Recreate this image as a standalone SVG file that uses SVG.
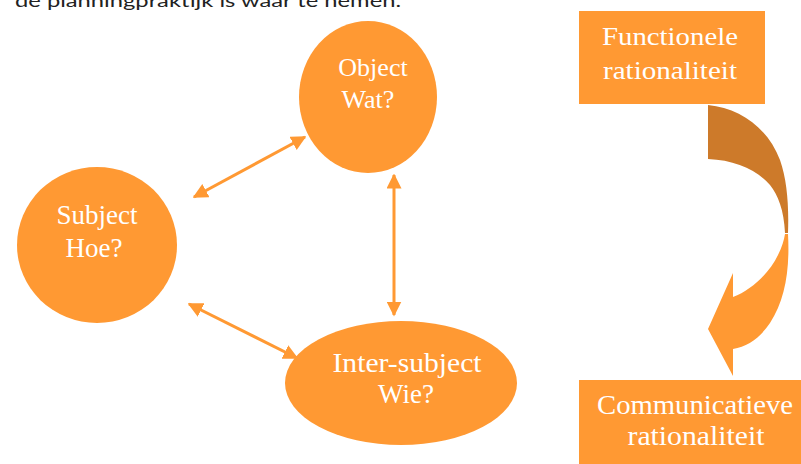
<svg xmlns="http://www.w3.org/2000/svg" width="801" height="464" viewBox="0 0 801 464">
<style>
.fill{fill:#FF9933}
.lbl{font-family:"Liberation Serif","Times New Roman",serif;fill:#fff;text-anchor:middle}
.conn{stroke:#FF9933;stroke-width:3;fill:none}
</style>
<defs>
<marker id="ah" viewBox="0 0 10 10" refX="9" refY="5" markerUnits="userSpaceOnUse" markerWidth="15" markerHeight="15" orient="auto-start-reverse">
<path d="M0,0 L10,5 L0,10 z" fill="#FF9933"/>
</marker>
</defs>
<rect width="801" height="464" fill="#fff"/>
<text x="15" y="7" font-family="Lato,'Open Sans',sans-serif" font-size="17" fill="#222" textLength="386" lengthAdjust="spacingAndGlyphs">de planningpraktijk is waar te nemen.</text>

<g id="object">
<ellipse class="fill" cx="368" cy="97" rx="69" ry="76"/>
<text class="lbl" x="373" y="76" font-size="26">Object</text>
<text class="lbl" x="368" y="108" font-size="26">Wat?</text>
</g>
<g id="subject">
<ellipse class="fill" cx="97" cy="245" rx="80" ry="78"/>
<text class="lbl" x="97" y="224" font-size="27">Subject</text>
<text class="lbl" x="94" y="257" font-size="27">Hoe?</text>
</g>
<g id="intersubject">
<ellipse class="fill" cx="401" cy="383" rx="116" ry="62"/>
<text class="lbl" x="407" y="372" font-size="27" textLength="149" lengthAdjust="spacingAndGlyphs">Inter-subject</text>
<text class="lbl" x="406" y="403" font-size="27">Wie?</text>
</g>
<g id="functionele">
<rect class="fill" x="579" y="11" width="186" height="93"/>
<text class="lbl" x="670" y="45" font-size="25" textLength="136" lengthAdjust="spacingAndGlyphs">Functionele</text>
<text class="lbl" x="670" y="79" font-size="25" textLength="134" lengthAdjust="spacingAndGlyphs">rationaliteit</text>
</g>
<g id="communicatieve">
<rect class="fill" x="579" y="380" width="222" height="84"/>
<text class="lbl" x="695" y="414" font-size="27" textLength="196" lengthAdjust="spacingAndGlyphs">Communicatieve</text>
<text class="lbl" x="696" y="445" font-size="27" textLength="137" lengthAdjust="spacingAndGlyphs">rationaliteit</text>
</g>
<g id="curved-arrow">
<path fill="#CD7A2A" d="M708,105 C740,108 768,128 780,160 C787,180 789,205 788,233 L785,233 C784,210 778,195 770,185 C757,170 735,160 708,159 Z"/>
<path class="fill" d="M785,234 L788,234 C790,270 785,300 770,323 C760,338 748,346 733,349 L733,376 L708,329 L733,273 L733,297 C752,290 770,272 778,255 C782,247 784,240 785,234 Z"/>
</g>
<g id="connectors">
<line class="conn" x1="194" y1="197" x2="305" y2="137" marker-start="url(#ah)" marker-end="url(#ah)"/>
<line class="conn" x1="189" y1="304" x2="297" y2="358" marker-start="url(#ah)" marker-end="url(#ah)"/>
<line class="conn" x1="394" y1="175" x2="394" y2="315" marker-start="url(#ah)" marker-end="url(#ah)"/>
</g>
</svg>
